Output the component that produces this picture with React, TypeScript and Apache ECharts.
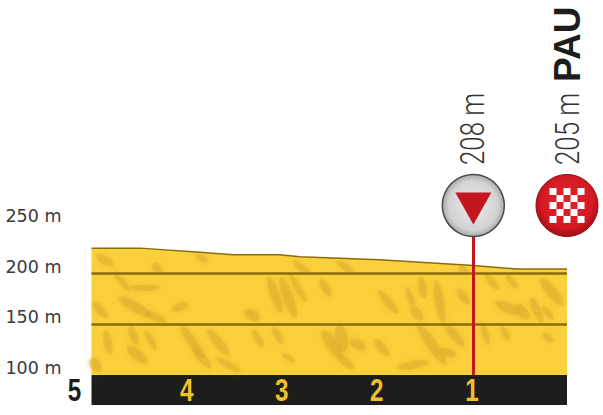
import React, { useEffect, useRef } from "react";
import * as echarts from "echarts";

// distance to finish (km), altitude (m)
const profileKm = [5, 4.49, 3.86, 3.51, 3.02, 2.81, 1.97, 0.985, 0.53, 0];
const profileM = [225, 225, 221, 218.5, 218.5, 216.5, 213.5, 208, 204.5, 204.5];
const kmTicks = [5, 4, 3, 2, 1];
const altGuides = [150, 200];
const checkpointKm = 0.985;
const finishKm = 0;
const markerAlt = 267;
const triangleAlt = 264;
const checkpointLabel = "208 m";
const finishAltLabel = "205 m";
const finishName = "PAU";
// shaded relief strokes: km, m, length, thickness, rotation
const relief = [
  [4.86, 213, 18, 6, -30], [4.68, 192, 22, 5, -50], [4.44, 186, 28, 5, 0], [4.54, 167, 35, 8, -30],
  [4.33, 157, 22, 6, -25], [4.07, 167, 16, 6, 20], [4.83, 132.5, 22, 6, -80], [4.56, 139, 18, 6, -70],
  [4.52, 120, 24, 8, -40], [4.38, 134.5, 20, 5, -60], [3.94, 132.5, 35, 7, -55], [3.67, 132.5, 30, 7, -50],
  [3.84, 117, 25, 6, -50], [3.56, 110, 25, 5, -30], [4.96, 110, 14, 8, -50], [4.31, 205, 12, 6, -50],
  [4.91, 164, 20, 6, -45], [3.84, 215, 12, 5, -20], [3.07, 179, 35, 7, -70], [2.93, 176, 40, 8, -70],
  [2.54, 186, 18, 6, -60], [2.83, 186, 30, 5, -60], [3.31, 159, 16, 8, -30], [3.04, 139, 18, 5, -60],
  [3.25, 136, 18, 5, -60], [2.47, 130, 30, 9, -55], [2.37, 136, 25, 10, -80], [2.2, 130, 16, 8, -30],
  [2.33, 113, 20, 6, -40], [1.88, 172, 28, 6, -50], [1.95, 127, 20, 6, -50], [2.79, 206, 20, 5, -35],
  [2.33, 206, 20, 5, -35], [2.93, 117, 14, 4, -30], [1.65, 177, 18, 5, -70], [1.52, 186, 20, 6, -80],
  [1.34, 172, 40, 7, -80], [1.58, 161, 16, 7, -50], [1.09, 177, 18, 6, -50], [1.42, 130, 45, 8, -55],
  [1.18, 139, 25, 7, -50], [1.62, 110, 30, 6, 10], [1.25, 122, 16, 6, -20], [0.86, 141, 22, 5, -75],
  [0.62, 166, 25, 8, -25], [0.47, 162, 18, 8, -50], [0.32, 164, 25, 6, -65], [0.2, 161, 15, 5, -50],
  [0.16, 182, 32, 8, -50], [0.79, 192, 18, 5, -50], [0.58, 192, 16, 5, -50], [0.65, 141, 14, 5, -60],
  [0.2, 137, 12, 5, -40], [1.09, 203, 10, 6, -20],
];

const sans = "'Liberation Sans', sans-serif";
const checker =
  "path://M0 0h1v1h-1zM2 0h1v1h-1zM4 0h1v1h-1zM1 1h1v1h-1zM3 1h1v1h-1zM0 2h1v1h-1zM2 2h1v1h-1zM4 2h1v1h-1zM1 3h1v1h-1zM3 3h1v1h-1zM0 4h1v1h-1zM2 4h1v1h-1zM4 4h1v1h-1z";

export default function App() {
  const ref = useRef<HTMLDivElement>(null);
  useEffect(() => {
    const chart = echarts.init(ref.current!, null, { renderer: "svg" });
    const line = profileKm.map((k, i) => [k, profileM[i]]);
    chart.setOption({
      animation: false,
      backgroundColor: "#ffffff",
      grid: { left: 91.5, right: 36, top: 172, bottom: 40 },
      xAxis: {
        type: "value",
        inverse: true,
        min: 0,
        max: 5,
        interval: 1,
        splitLine: { show: false },
        axisTick: { show: false },
        axisLabel: { show: false },
        offset: 15,
        axisLine: { show: true, onZero: false, lineStyle: { color: "#1d1d1b", width: 30, cap: "butt" } },
      },
      yAxis: {
        type: "value",
        min: 100,
        max: 300,
        interval: 50,
        splitLine: { show: false },
        axisTick: { show: false },
        axisLine: { show: false },
        axisLabel: {
          margin: 30,
          showMaxLabel: false,
          color: "#3a3a3a",
          fontFamily: "'DejaVu Sans', sans-serif",
          fontSize: 17.5,
          verticalAlign: "bottom",
          lineHeight: 14,
          formatter: (v: number) => `${v} m`,
        },
      },
      series: [
        {
          type: "line",
          z: 2,
          data: line,
          symbol: "none",
          lineStyle: { width: 0 },
          areaStyle: { color: "#fad03c", opacity: 1 },
        },
        {
          type: "scatter",
          z: 3,
          silent: true,
          data: relief.map((r) => ({
            value: [r[0], r[1]],
            symbolSize: [r[2] * 1.1, r[3] * 1.3],
            symbolRotate: r[4],
          })),
          itemStyle: { color: "#dcab2c", opacity: 0.45, shadowBlur: 6, shadowColor: "#dcab2c" },
        },
        {
          type: "line",
          z: 4,
          data: line,
          symbol: "none",
          lineStyle: { color: "#8a6c0c", width: 1.5 },
          markLine: {
            silent: true,
            symbol: "none",
            label: { show: false },
            lineStyle: { color: "#8a6c0c", width: 2.5, type: "solid" },
            data: altGuides.map((a) => ({ yAxis: a })),
          },
        },
        {
          type: "line",
          z: 5,
          data: [],
          markLine: {
            silent: true,
            symbol: "none",
            label: { show: false },
            lineStyle: { color: "#c3161f", width: 3, type: "solid" },
            data: [[{ coord: [checkpointKm, 100] }, { coord: [checkpointKm, markerAlt] }]],
          },
        },
        {
          type: "scatter",
          z: 6,
          silent: true,
          symbol: "circle",
          symbolSize: 62,
          data: [
            {
              value: [checkpointKm, markerAlt],
              itemStyle: {
                opacity: 1,
                color: {
                  type: "radial", x: 0.5, y: 0.5, r: 0.5,
                  colorStops: [{ offset: 0, color: "#ececec" }, { offset: 0.8, color: "#d2d2d2" }, { offset: 1, color: "#a9a9a9" }],
                },
                borderColor: "#4a4a4a",
                borderWidth: 1.5,
              },
            },
            {
              value: [finishKm, markerAlt],
              itemStyle: {
                opacity: 1,
                color: {
                  type: "radial", x: 0.5, y: 0.45, r: 0.55,
                  colorStops: [{ offset: 0, color: "#e3212a" }, { offset: 0.75, color: "#d51a23" }, { offset: 1, color: "#a00e15" }],
                },
                borderColor: "#8f1117",
                borderWidth: 1,
              },
            },
          ],
        },
        {
          type: "scatter",
          z: 7,
          silent: true,
          clip: false,
          data: [
            {
              value: [checkpointKm, triangleAlt],
              symbol: "triangle",
              symbolSize: [36, 32],
              symbolRotate: 180,
              itemStyle: { color: "#c3161f", opacity: 1 },
            },
            {
              value: [finishKm, markerAlt],
              symbol: checker,
              symbolSize: [35, 35],
              itemStyle: { color: "#ffffff", opacity: 1 },
            },
          ],
        },
      ],
    });

    const px = (km: number, alt: number) =>
      chart.convertToPixel({ xAxisIndex: 0, yAxisIndex: 0 }, [km, alt]) as number[];
    const baseY = px(0, 100)[1];
    const tickEls = kmTicks.map((k) => {
      const isStart = k === 5;
      return {
        type: "text",
        z: 100,
        x: px(k, 100)[0] - (isStart ? 17 : 0),
        y: baseY + 15,
        scaleX: 0.78,
        style: {
          text: String(k),
          fill: isStart ? "#1d1d1b" : "#f1bf2c",
          font: `bold 31px ${sans}`,
          align: "center",
          verticalAlign: "middle",
        },
      };
    });
    const rotated = (text: string, x: number, y: number, font: string, scaleX: number, fill: string) => ({
      type: "text",
      z: 100,
      x,
      y,
      rotation: Math.PI / 2,
      scaleX,
      style: { text, fill, font, align: "left", verticalAlign: "middle" },
    });
    const light = "300 34px Roboto, 'Liberation Sans', sans-serif";
    chart.setOption({
      graphic: {
        elements: [
          ...tickEls,
          rotated(checkpointLabel, px(checkpointKm, 100)[0] - 1, 165, light, 0.76, "#333333"),
          rotated(finishAltLabel, px(finishKm, 100)[0], 165, light, 0.76, "#333333"),
          rotated(finishName, px(finishKm, 100)[0], 82, `bold 37px ${sans}`, 1, "#1d1d1b"),
        ],
      },
    });
    return () => chart.dispose();
  }, []);
  return <div ref={ref} style={{ position: "absolute", left: 0, top: 0, width: 603, height: 415 }} />;
}
